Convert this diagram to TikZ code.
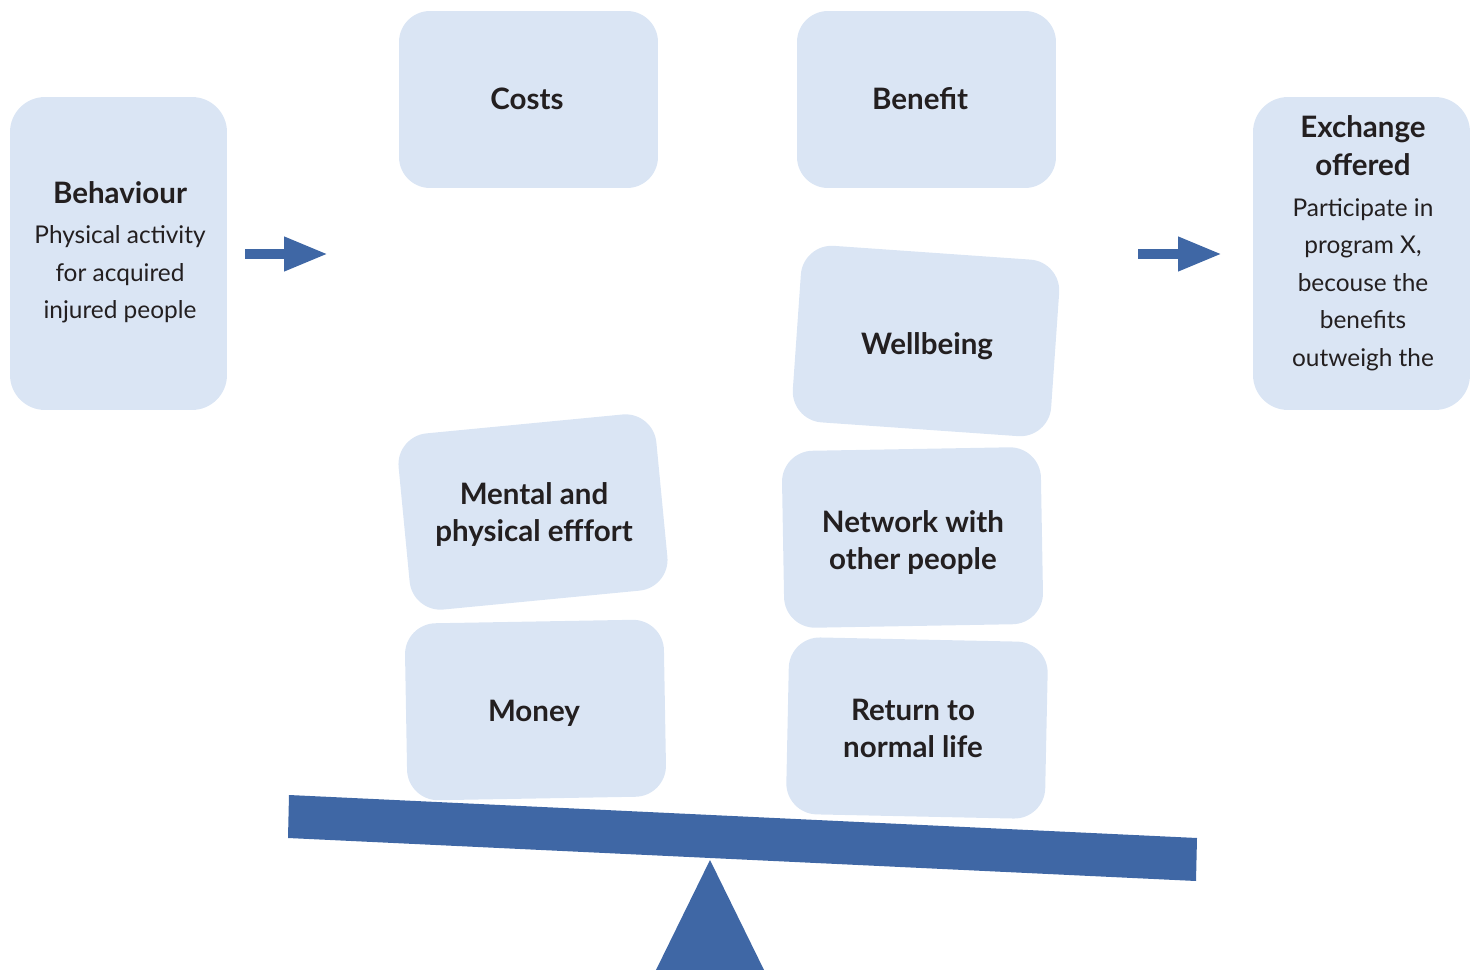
\documentclass[tikz,border=0pt]{standalone}
\usepackage{fontspec}
\setmainfont{Lato}
\usetikzlibrary{arrows.meta}
\definecolor{cardfill}{HTML}{DAE5F4}
\definecolor{scaleblue}{HTML}{3F67A5}
\definecolor{ink}{HTML}{231F20}
\tikzset{
  card/.style={fill=cardfill, draw=none, rounded corners=0.62cm,
    minimum width=5.18cm, minimum height=3.54cm, inner sep=0pt},
  sidecard/.style={fill=cardfill, draw=none, rounded corners=0.7cm,
    minimum width=4.34cm, minimum height=6.26cm, inner sep=0pt},
  cardtext/.style={text=ink, align=center, inner sep=0pt,
    font=\fontsize{16.8}{21}\selectfont\bfseries},
  sidetext/.style={text=ink, align=center, inner sep=0pt,
    font=\fontsize{13.9}{21.3}\selectfont},
  flowarrow/.style={draw=scaleblue, line width=0.2cm,
    -{Triangle[length=0.88cm, width=0.64cm]}},
}
\newcommand{\headline}[1]{{\fontsize{16.8}{21}\selectfont\bfseries #1}}
\begin{document}
\begin{tikzpicture}[x=0.02cm, y=-0.02cm]
\useasboundingbox (0,0) rectangle (1471,970);

% side boxes
\node[sidecard] (behav) at (118.5,253.5) {};
\node[sidetext] (behavtxt) at (120,252.5)
  {\headline{Behaviour}\\[1.5pt]Physical activity\\for acquired\\injured people};
\node[sidecard] (exch) at (1361.5,253.5) {};
\node[sidetext] (exchtxt) at (1363,243)
  {\headline{Exchange}\\[0.5pt]\headline{offered}\\[2pt]Participate in\\program X,\\becouse the\\benefits\\outweigh the};

% arrows
\coordinate (a1s) at (245,254);
\coordinate (a1e) at (328,254);
\coordinate (a2s) at (1138,254);
\coordinate (a2e) at (1222,254);
\draw[flowarrow] (a1s) -- (a1e);
\draw[flowarrow] (a2s) -- (a2e);

% column headers
\node[card] (costs) at (528.5,99.5) {};
\node[cardtext] (coststxt) at (527,98.5) {Costs};
\node[card] (benefit) at (926.5,99.5) {};
\node[cardtext] (benefittxt) at (920,98.5) {Benefit};

% cost cards
\node[card, rotate=5.5] (mental) at (533,512) {};
\node[cardtext] (mentaltxt) at (534,514.5) {Mental and\\physical efffort};
\node[card, rotate=1] (money) at (535.5,710) {};
\node[cardtext] (moneytxt) at (534,713.5) {Money};

% benefit cards
\node[card, rotate=-4] (well) at (926,341) {};
\node[cardtext] (welltxt) at (927,346.5) {Wellbeing};
\node[card, rotate=1] (network) at (912.5,537.5) {};
\node[cardtext] (networktxt) at (913,542.5) {Network with\\other people};
\node[card, rotate=-1.2] (ret) at (917,728) {};
\node[cardtext] (rettxt) at (913,728) {Return to\\normal life};

% the balance
\fill[scaleblue] (289,795) -- (1197,838) -- (1196,881) -- (288,838) -- cycle;
\fill[scaleblue] (710,860) -- (765,972) -- (655,972) -- cycle;
\end{tikzpicture}
\end{document}
